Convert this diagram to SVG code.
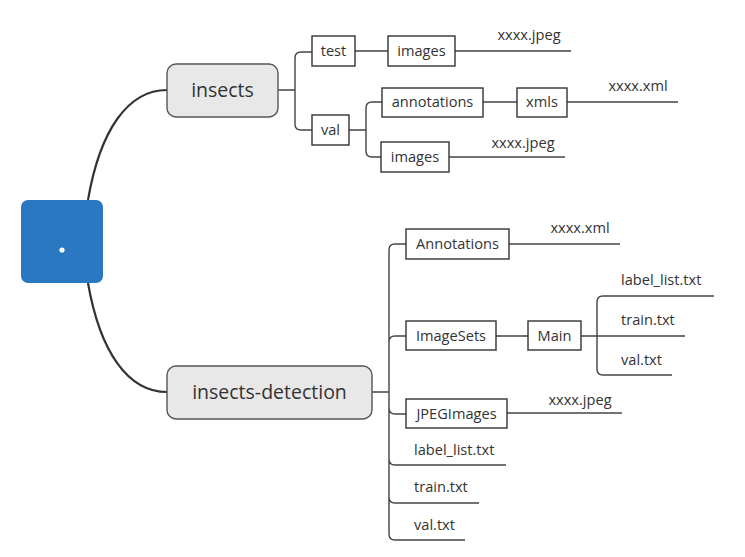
<svg xmlns="http://www.w3.org/2000/svg" width="745" height="557" viewBox="0 0 745 557">
<style>
text{font-family:"Open Sans","Noto Sans","Liberation Sans",sans-serif;fill:#333}
.big{font-size:19.5px;text-anchor:middle}
.sm{font-size:14.6px}
.c{text-anchor:middle}
.main{fill:none;stroke:#333;stroke-width:2.2}
.ln{fill:none;stroke:#444;stroke-width:1.4}
.top{fill:#e8e8e8;stroke:#555;stroke-width:1.4}
.box{fill:#fff;stroke:#333;stroke-width:1.4}
</style>
<rect width="745" height="557" fill="#fff"/>
<g id="connectors">
<path class="main" d="M88 200 C100 130 128 90 167 90"/>
<path class="main" d="M88 283 C100 352 128 392 167 392"/>
<path class="ln" d="M278 90 H295 M295 90 V58 Q295 52 301 52 H312 M295 90 V124 Q295 130 301 130 H312"/>
<path class="ln" d="M355 51 H388 M455 51 H571"/>
<path class="ln" d="M349 130 H366 M366 130 V108 Q366 102 372 102 H382 M366 130 V151 Q366 157 372 157 H381"/>
<path class="ln" d="M483 102 H517 M567 102 H678"/>
<path class="ln" d="M449 157 H565"/>
<path class="ln" d="M372 392 H389 M389 392 V250 Q389 244 395 244 H406 M389 392 V342 Q389 336 395 336 H406 M389 392 V408 Q389 414 395 414 H406 M389 392 V459 Q389 465 395 465 H506 M389 392 V497 Q389 503 395 503 H479 M389 392 V534 Q389 540 395 540 H465"/>
<path class="ln" d="M509 244 H620"/>
<path class="ln" d="M496 336 H528 M581 336 H685 M597 336 V302 Q597 296 603 296 H714 M597 336 V369 Q597 375 603 375 H672"/>
<path class="ln" d="M507 413 H622"/>
</g>
<g id="root">
<rect x="21" y="200" width="82" height="83" rx="7" fill="#2a78c2"/>
<circle cx="62" cy="250" r="2.6" fill="#fff"/>
</g>
<g id="insects">
<rect class="top" x="167" y="64" width="111" height="53" rx="9"/>
<text class="big" x="222.5" y="97">insects</text>
</g>
<g id="insects-detection">
<rect class="top" x="167" y="366" width="205" height="53" rx="9"/>
<text class="big" x="269.5" y="399">insects-detection</text>
</g>
<g id="test">
<rect class="box" x="312" y="36" width="43" height="30"/>
<text class="sm c" x="333.5" y="56">test</text>
</g>
<g id="test-images">
<rect class="box" x="388" y="36" width="67" height="30"/>
<text class="sm c" x="421.5" y="56">images</text>
</g>
<g id="test-jpeg"><text class="sm c" x="529" y="40">xxxx.jpeg</text></g>
<g id="val">
<rect class="box" x="312" y="115" width="37" height="30"/>
<text class="sm c" x="330.5" y="135">val</text>
</g>
<g id="annotations">
<rect class="box" x="382" y="88" width="101" height="29"/>
<text class="sm c" x="432.5" y="107">annotations</text>
</g>
<g id="xmls">
<rect class="box" x="517" y="88" width="50" height="29"/>
<text class="sm c" x="542" y="107">xmls</text>
</g>
<g id="val-xml"><text class="sm c" x="638" y="91">xxxx.xml</text></g>
<g id="val-images">
<rect class="box" x="381" y="142" width="68" height="30"/>
<text class="sm c" x="415" y="162">images</text>
</g>
<g id="val-jpeg"><text class="sm c" x="523" y="148">xxxx.jpeg</text></g>
<g id="Annotations">
<rect class="box" x="406" y="229" width="103" height="30"/>
<text class="sm c" x="457.5" y="249">Annotations</text>
</g>
<g id="det-xml"><text class="sm c" x="580" y="233">xxxx.xml</text></g>
<g id="ImageSets">
<rect class="box" x="406" y="321" width="90" height="29"/>
<text class="sm c" x="451" y="341">ImageSets</text>
</g>
<g id="Main">
<rect class="box" x="528" y="321" width="53" height="29"/>
<text class="sm c" x="554.5" y="341">Main</text>
</g>
<g id="main-label"><text class="sm" x="621" y="285">label_list.txt</text></g>
<g id="main-train"><text class="sm" x="621" y="325">train.txt</text></g>
<g id="main-val"><text class="sm" x="621" y="365">val.txt</text></g>
<g id="JPEGImages">
<rect class="box" x="406" y="399" width="101" height="29"/>
<text class="sm c" x="456.5" y="419">JPEGImages</text>
</g>
<g id="det-jpeg"><text class="sm c" x="580" y="405">xxxx.jpeg</text></g>
<g id="det-label"><text class="sm" x="414" y="455">label_list.txt</text></g>
<g id="det-train"><text class="sm" x="414" y="492">train.txt</text></g>
<g id="det-val"><text class="sm" x="414" y="530">val.txt</text></g>
</svg>
